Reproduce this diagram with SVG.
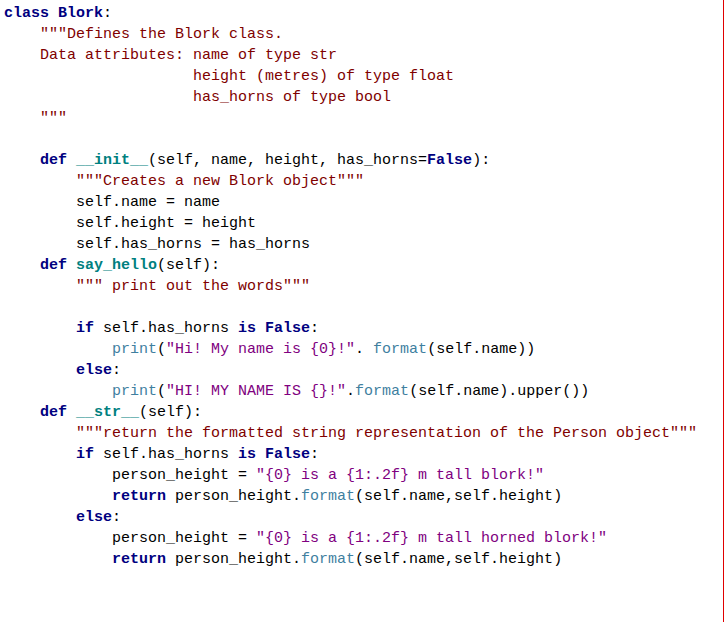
<svg xmlns="http://www.w3.org/2000/svg" width="727" height="622" viewBox="0 0 727 622">
<style>
text{font-family:"Liberation Mono","DejaVu Sans Mono",monospace;font-size:15px;fill:#000;white-space:pre}
.k{fill:#000080;font-weight:bold}
.f{fill:#008080;font-weight:bold}
.d{fill:#800000}
.s{fill:#800080}
.b{fill:#3f7f9f}
</style>
<rect width="727" height="622" fill="#fff"/>
<line x1="723.5" y1="0" x2="723.5" y2="622" stroke="#e00000" stroke-width="1"/>
<g id="code" xml:space="preserve">
<text x="4" y="17"><tspan class="k">class</tspan> <tspan class="k">Blork</tspan>:</text>
<text x="4" y="38" class="d">    """Defines the Blork class.</text>
<text x="4" y="59" class="d">    Data attributes: name of type str</text>
<text x="4" y="80" class="d">                     height (metres) of type float</text>
<text x="4" y="101" class="d">                     has_horns of type bool</text>
<text x="4" y="122" class="d">    """</text>
<text x="4" y="164">    <tspan class="k">def</tspan> <tspan class="f">__init__</tspan>(self, name, height, has_horns=<tspan class="k">False</tspan>):</text>
<text x="4" y="185" class="d">        """Creates a new Blork object"""</text>
<text x="4" y="206">        self.name = name</text>
<text x="4" y="227">        self.height = height</text>
<text x="4" y="248">        self.has_horns = has_horns</text>
<text x="4" y="269">    <tspan class="k">def</tspan> <tspan class="f">say_hello</tspan>(self):</text>
<text x="4" y="290" class="d">        """ print out the words"""</text>
<text x="4" y="332">        <tspan class="k">if</tspan> self.has_horns <tspan class="k">is</tspan> <tspan class="k">False</tspan>:</text>
<text x="4" y="353">            <tspan class="b">print</tspan>(<tspan class="s">"Hi! My name is {0}!"</tspan>. <tspan class="b">format</tspan>(self.name))</text>
<text x="4" y="374">        <tspan class="k">else</tspan>:</text>
<text x="4" y="395">            <tspan class="b">print</tspan>(<tspan class="s">"HI! MY NAME IS {}!"</tspan>.<tspan class="b">format</tspan>(self.name).upper())</text>
<text x="4" y="416">    <tspan class="k">def</tspan> <tspan class="f">__str__</tspan>(self):</text>
<text x="4" y="437" class="d">        """return the formatted string representation of the Person object"""</text>
<text x="4" y="458">        <tspan class="k">if</tspan> self.has_horns <tspan class="k">is</tspan> <tspan class="k">False</tspan>:</text>
<text x="4" y="479">            person_height = <tspan class="s">"{0} is a {1:.2f} m tall blork!"</tspan></text>
<text x="4" y="500">            <tspan class="k">return</tspan> person_height.<tspan class="b">format</tspan>(self.name,self.height)</text>
<text x="4" y="521">        <tspan class="k">else</tspan>:</text>
<text x="4" y="542">            person_height = <tspan class="s">"{0} is a {1:.2f} m tall horned blork!"</tspan></text>
<text x="4" y="563">            <tspan class="k">return</tspan> person_height.<tspan class="b">format</tspan>(self.name,self.height)</text>
</g>
</svg>
